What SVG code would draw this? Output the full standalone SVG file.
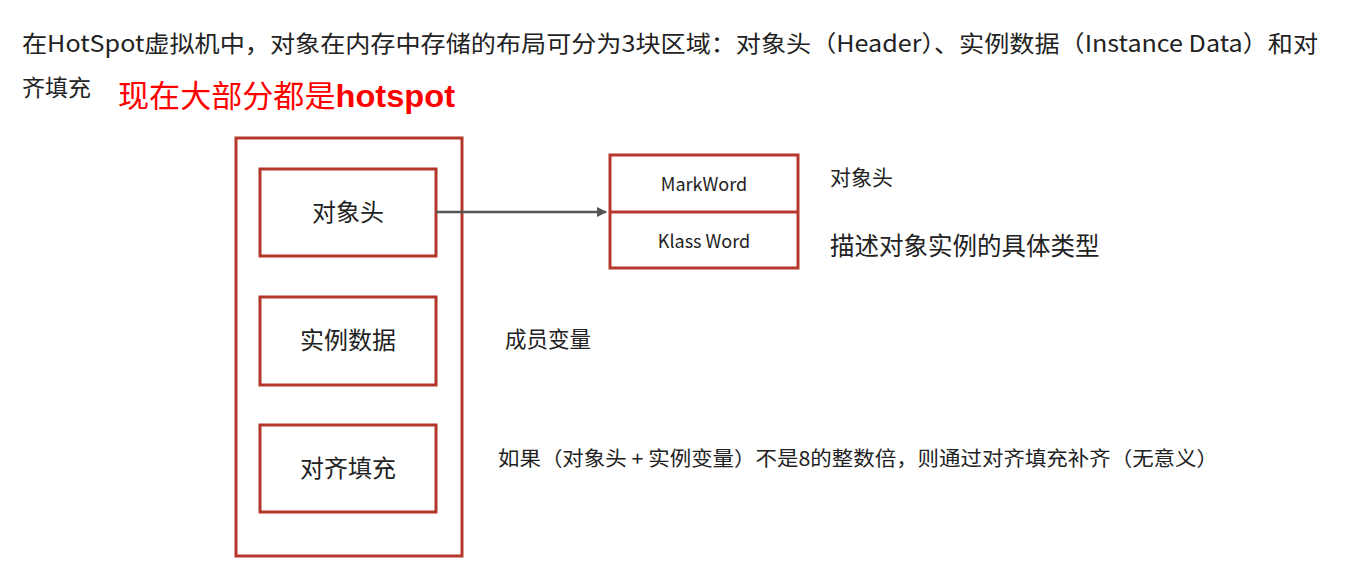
<svg xmlns="http://www.w3.org/2000/svg" width="1367" height="572" viewBox="0 0 1367 572">
<style>
.t{font-family:"Noto Sans CJK SC","Noto Sans",sans-serif;fill:#222}
.box{fill:#fff;stroke:#b5372c;stroke-width:3}
</style>
<defs>
<marker id="ah" markerWidth="10" markerHeight="10" refX="9" refY="5" orient="auto" markerUnits="userSpaceOnUse">
<path d="M0,0 L10,5 L0,10 z" fill="#555"/>
</marker>
</defs>
<rect width="1367" height="572" fill="#fff"/>
<g id="intro">
<text class="t" x="22" y="52" font-size="23" textLength="1296" lengthAdjust="spacingAndGlyphs">在HotSpot虚拟机中，对象在内存中存储的布局可分为3块区域：对象头（Header）、实例数据（Instance Data）和对</text>
<text class="t" x="22" y="96" font-size="23">齐填充</text>
<text x="118" y="107" font-size="30.5" fill="#ff0000" font-family="Noto Sans CJK SC,sans-serif" textLength="337" lengthAdjust="spacingAndGlyphs">现在大部分都是<tspan font-family="Liberation Sans,Arial,sans-serif" font-weight="bold" font-size="32">hotspot</tspan></text>
</g>
<g id="object">
<rect class="box" x="236" y="138" width="226" height="418"/>
</g>
<g id="header">
<rect class="box" x="260" y="169" width="176" height="87"/>
<text class="t" x="348" y="221" font-size="24" text-anchor="middle">对象头</text>
</g>
<g id="instance">
<rect class="box" x="260" y="297" width="176" height="88"/>
<text class="t" x="348" y="349" font-size="24" text-anchor="middle">实例数据</text>
</g>
<g id="padding">
<rect class="box" x="260" y="425" width="176" height="87"/>
<text class="t" x="348" y="477" font-size="24" text-anchor="middle">对齐填充</text>
</g>
<g id="headerparts">
<rect class="box" x="610" y="155" width="188" height="113"/>
<line x1="610" y1="212" x2="798" y2="212" stroke="#b5372c" stroke-width="3"/>
<text class="t" x="704" y="191" font-size="18" text-anchor="middle">MarkWord</text>
<text class="t" x="704" y="248" font-size="18" text-anchor="middle">Klass Word</text>
</g>
<g id="connectors">
<line x1="436" y1="212" x2="606" y2="212" stroke="#555" stroke-width="2.5" marker-end="url(#ah)"/>
</g>
<g id="notes">
<text class="t" x="830" y="185" font-size="21">对象头</text>
<text class="t" x="830" y="255" font-size="24.5">描述对象实例的具体类型</text>
<text class="t" x="505" y="347" font-size="21.5">成员变量</text>
<text class="t" x="498" y="466" font-size="20" textLength="720" lengthAdjust="spacingAndGlyphs">如果（对象头 + 实例变量）不是8的整数倍，则通过对齐填充补齐（无意义）</text>
</g>
</svg>
